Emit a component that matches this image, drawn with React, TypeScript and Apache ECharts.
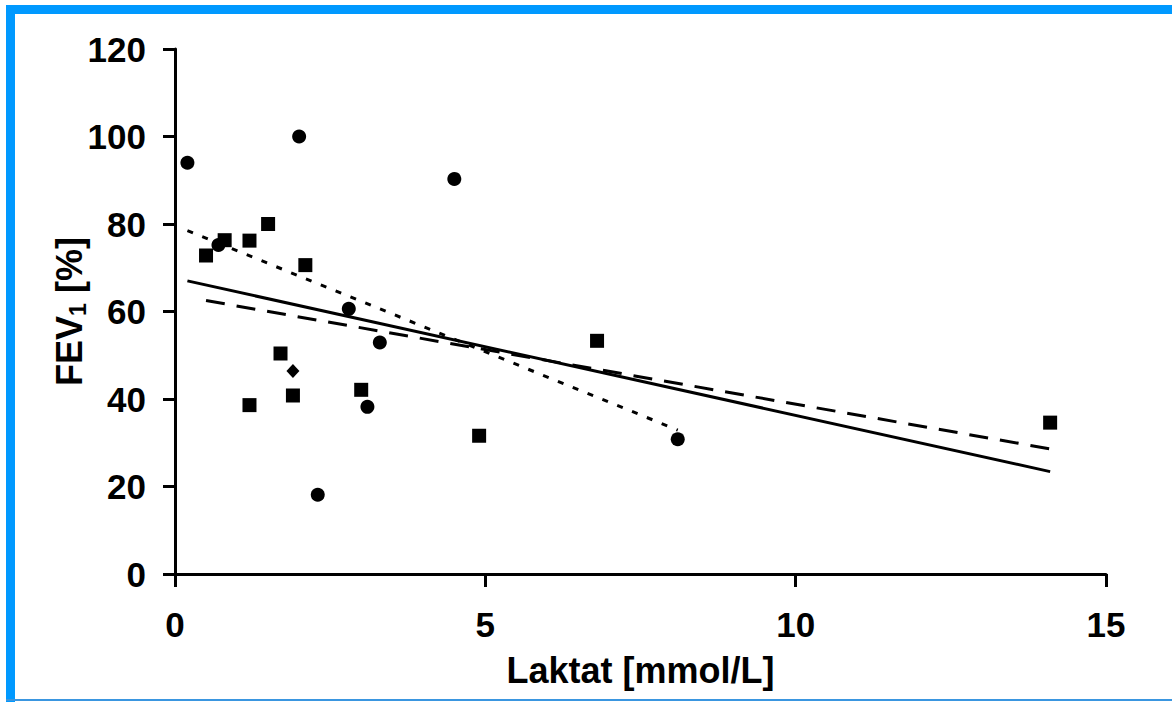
import React, { useEffect, useRef } from "react";
import * as echarts from "echarts";

// Data
const circleData: number[][] = [
  [0.2, 94], [2.0, 100], [4.5, 90.3], [0.7, 75.2], [2.8, 60.6],
  [3.3, 52.9], [3.1, 38.2], [2.3, 18.1], [8.1, 30.8],
];
const squareData: number[][] = [
  [0.5, 72.8], [0.8, 76.3], [1.2, 76.2], [1.5, 80.0], [2.1, 70.6],
  [1.7, 50.4], [1.2, 38.6], [1.9, 40.8], [3.0, 42.1], [4.9, 31.6],
  [6.8, 53.3], [14.1, 34.6],
];
const diamondData: number[][] = [[1.9, 46.4]];
const solidFit: number[][] = [[0.2, 67.0], [14.1, 23.4]];
const dashedFit: number[][] = [[0.5, 62.5], [14.1, 28.6]];
const dottedFit: number[][] = [[0.2, 78.5], [8.1, 32.9]];

const xMin = 0, xMax = 15, xStep = 5;
const yMin = 0, yMax = 120, yStep = 20;
const xName = "Laktat [mmol/L]";

const FONT = "'Liberation Sans', Arial, sans-serif";
const BLUE = "#0099FF";

export default function App() {
  const ref = useRef<HTMLDivElement>(null);
  useEffect(() => {
    if (!ref.current) return;
    const chart = echarts.init(ref.current, undefined, { renderer: "svg" });
    const labelStyle = {
      fontSize: 35,
      fontWeight: "bold" as const,
      fontFamily: FONT,
      color: "#000",
    };
    const axisLine = { show: true, onZero: false, lineStyle: { color: "#000", width: 3 } };
    chart.setOption({
      animation: false,
      backgroundColor: "#fff",
      grid: { left: 175, top: 49, right: 66, bottom: 128, containLabel: false },
      xAxis: {
        type: "value",
        min: xMin,
        max: xMax,
        interval: xStep,
        name: xName,
        nameLocation: "middle",
        nameGap: 78,
        nameMoveOverlap: false,
        nameTextStyle: { ...labelStyle, fontSize: 36 },
        axisLine,
        axisTick: { show: true, inside: false, length: 13, lineStyle: { color: "#000", width: 3 } },
        axisLabel: { ...labelStyle, margin: 33 },
        splitLine: { show: false },
      },
      yAxis: {
        type: "value",
        min: yMin,
        max: yMax,
        interval: yStep,
        name: "{a|FEV}{s|1}{a| [%]}",
        nameLocation: "middle",
        nameGap: 86,
        nameMoveOverlap: false,
        nameRotate: 90,
        nameTextStyle: {
          rich: {
            a: { ...labelStyle, fontSize: 36, lineHeight: 40 },
            s: { ...labelStyle, fontSize: 23, lineHeight: 20, verticalAlign: "bottom" },
          },
        },
        axisLine,
        axisTick: { show: true, inside: false, length: 12, lineStyle: { color: "#000", width: 3 } },
        axisLabel: { ...labelStyle, margin: 29 },
        splitLine: { show: false },
      },
      graphic: [
        { type: "rect", shape: { x: 6, y: 5, width: 1166, height: 9 }, style: { fill: BLUE }, z: 100 },
        { type: "rect", shape: { x: 6, y: 5, width: 9, height: 697 }, style: { fill: BLUE }, z: 100 },
        { type: "rect", shape: { x: 6, y: 699, width: 1166, height: 2 }, style: { fill: "#3a96e0" }, z: 100 },
      ],
      series: [
        {
          type: "line", data: solidFit, showSymbol: false, symbol: "none",
          lineStyle: { color: "#000", width: 3, type: "solid" }, z: 2,
        },
        {
          type: "line", data: dashedFit, showSymbol: false, symbol: "none",
          lineStyle: { color: "#000", width: 3, type: [19, 12] }, z: 2,
        },
        {
          type: "line", data: dottedFit, showSymbol: false, symbol: "none",
          lineStyle: { color: "#000", width: 3, type: [6, 10] }, z: 2,
        },
        {
          type: "scatter", data: circleData, symbol: "circle", symbolSize: 14,
          itemStyle: { color: "#000", opacity: 1 }, z: 3,
        },
        {
          type: "scatter", data: squareData, symbol: "rect", symbolSize: 14,
          itemStyle: { color: "#000", opacity: 1 }, z: 3,
        },
        {
          type: "scatter", data: diamondData, symbol: "diamond", symbolSize: [13, 14],
          itemStyle: { color: "#000", opacity: 1 }, z: 3,
        },
      ],
    });
    return () => chart.dispose();
  }, []);
  return (
    <div
      ref={ref}
      style={{ position: "fixed", left: 0, top: 0, width: 1172, height: 702 }}
    />
  );
}
